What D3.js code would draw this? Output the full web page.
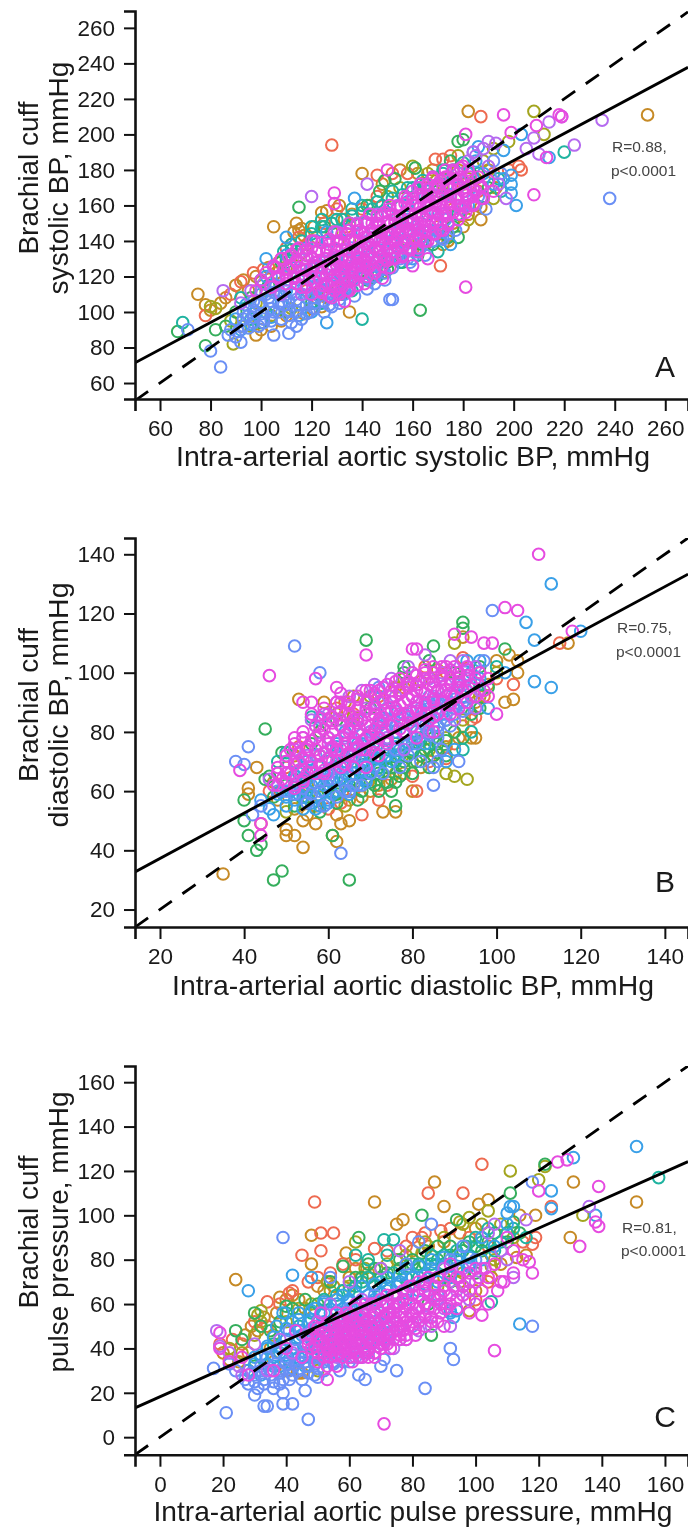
<!DOCTYPE html>
<html><head><meta charset="utf-8">
<script src="https://cdn.jsdelivr.net/npm/d3@7/dist/d3.min.js"></script>
<style>html,body{margin:0;padding:0;background:#fff}svg{display:block;filter:blur(0.35px)}</style>
</head><body><svg id="c" width="688" height="1529"></svg>
<script>
const groupColors=["#C68A26","#EE6A50","#A3A51F","#35AE5C","#1FB3A0","#3AA0E8","#6A8FF5","#B56AF0","#E64BE0"];
// Panel A: [aortic systolic, cuff systolic]
const aOrange=[[253,211],[182,213],[75,110],[105,148],[140,178],[187,152],[187,159],[174,140],[174,143],[135,100],[98,87],[78,104],[80,101],[84,105],[86,108],[90,115],[93,118],[95,112],[98,120],[100,117],[103,125],[106,122],[110,130],[113,145],[114,150],[115,146],[116,147],[117,143],[118,138],[121,148],[124,156],[126,157],[128,150],[131,160],[133,152],[136,155],[143,160],[148,172],[155,180],[162,178],[168,180],[172,175],[178,180],[185,175],[190,180],[193,170],[185,160],[182,155],[176,150],[172,138],[180,148],[120,102],[124,103],[126,108],[108,95],[104,92],[110,98],[100,90],[117,99],[130,112],[135,113]];
const aRed=[[128,194],[187,210],[146,177],[171,126],[169,186],[203,180],[78,98],[110,136],[88,110],[92,117],[97,122],[101,124],[107,128],[112,138],[115,142],[120,140],[125,150],[130,158],[134,148],[140,158],[146,165],[152,178],[158,178],[165,170],[172,186],[175,188],[180,172],[186,168],[192,178],[198,180],[202,182],[176,158],[170,148],[165,138],[160,135],[150,130],[122,108],[118,112],[128,118],[142,122]];
const aOlive=[[208,213],[212,200],[198,196],[192,164],[89,82],[80,103],[82,102],[88,95],[92,92],[98,105],[102,112],[110,125],[115,132],[122,142],[128,145],[135,140],[142,150],[150,165],[155,170],[160,182],[166,178],[172,172],[178,188],[182,175],[188,185],[192,192],[175,160],[182,152],[178,160],[165,145],[158,140],[148,122],[132,118],[122,110],[112,102],[104,98],[96,92]];
const aGreen=[[67,89],[78,81],[115,159],[163,101],[178,196],[180,197],[178,142],[149,174],[82,90],[90,100],[96,108],[103,115],[108,128],[118,132],[125,148],[135,150],[142,160],[147,168],[153,175],[161,181],[170,168],[175,185],[183,178],[190,170],[176,148],[168,140],[158,135],[150,128],[142,118],[132,110],[120,105],[110,100],[100,94],[86,92],[150,124],[156,128],[162,132],[168,138],[174,142]];
const aTeal=[[69,94],[140,96],[220,190],[194,175],[170,134],[143,118],[109,134],[92,108],[100,118],[110,128],[112,138],[120,148],[124,152],[130,152],[136,158],[140,160],[146,162],[152,168],[158,170],[165,172],[172,180],[180,184],[186,178],[195,168],[188,165],[178,155],[162,135],[155,128],[146,120],[136,112],[124,105],[114,100],[102,100],[96,96],[112,135],[116,140],[120,144],[124,148],[128,150],[132,152],[136,154],[140,156],[144,158],[148,160],[152,164],[156,166],[160,170],[164,174],[168,176],[172,178],[176,180]];
const aAzure=[[126,94],[201,160],[199,167],[199,177],[203,200],[137,164],[110,142],[102,130],[214,187],[186,193],[196,191],[90,96],[94,104],[98,100],[100,110],[102,120],[105,115],[108,105],[110,112],[112,125],[115,118],[118,108],[120,100],[122,115],[125,128],[122,140],[126,145],[130,135],[133,125],[136,118],[138,130],[140,145],[143,155],[146,135],[148,125],[152,140],[155,150],[158,160],[160,130],[163,142],[166,155],[170,165],[172,145],[175,138],[178,170],[182,160],[185,185],[188,178],[192,172],[196,175],[199,172],[92,90],[96,93],[104,97],[115,98],[128,108],[132,112],[144,120],[110,132],[118,136],[126,140],[134,146],[142,150],[150,156],[158,162],[166,168],[174,172],[182,178]];
const aBlue=[[238,164],[84,69],[80,78],[71,90],[151,107],[152,107],[105,87],[111,88],[114,92],[92,83],[87,87],[131,105],[88,90],[90,86],[93,92],[95,98],[97,94],[99,104],[101,96],[103,108],[105,100],[107,112],[109,104],[111,98],[113,110],[115,104],[117,114],[119,100],[121,108],[123,120],[125,112],[127,104],[129,116],[131,122],[133,110],[135,114],[137,126],[139,120],[141,130],[143,118],[145,128],[147,136],[149,122],[151,132],[153,142],[155,130],[157,138],[159,128],[161,148],[163,136],[165,132],[167,146],[169,156],[171,142],[173,152],[175,166],[177,146],[179,158],[181,168],[184,190],[186,165],[189,158],[192,185],[195,178],[100,112],[104,120],[110,120],[116,124],[122,128],[130,130],[136,136],[144,142],[150,150],[158,152],[165,165],
[91,89],[95,91],[99,92],[93,96],[97,97],[101,94],[104,95],[108,96],[112,94],[116,96],[93,100],[97,101],[100,99],[104,102],[107,100],[111,101],[114,100],[118,99],[121,102],[125,100],[97,106],[100,105],[104,106],[107,105],[111,106],[114,107],[118,104],[121,105],[125,106],[128,103],[131,107],[102,110],[105,111],[109,109],[112,111],[116,110],[119,110],[123,109],[126,111],[130,110],[133,112],[137,109],[106,115],[110,114],[114,116],[118,115],[122,113],[126,116],[130,114],[134,117],[138,115],[142,113],[145,116],[110,120],[113,119],[117,121],[121,120],[125,119],[129,121],[133,120],[137,118],[141,122],[145,120],[149,118],[120,125],[124,126],[128,124],[132,126],[136,124],[140,125],[144,126],[148,124],[152,125],[130,131],[134,129],[138,130],[142,131],[146,129],[150,130],[154,131],[158,130],[138,135],[142,136],[146,134],[150,135],[154,136],[158,135],[162,134],[148,141],[152,139],[156,140],[160,141],[164,139],[168,140],[172,141],[154,145],[158,146],[162,144],[166,145],[170,146],[174,144]];
const aViolet=[[120,165],[142,172],[190,196],[224,194],[235,208],[219,210],[210,189],[85,112],[208,198],[197,164],[205,192],[214,207],[92,105],[96,112],[101,116],[105,125],[110,118],[114,128],[118,135],[122,125],[126,135],[130,145],[134,135],[138,150],[142,140],[146,155],[150,145],[154,160],[158,150],[162,170],[166,162],[170,172],[174,165],[178,178],[182,185],[184,190],[187,170],[190,182],[194,172],[193,195],[188,192],[185,188],[108,110],[116,110],[124,115],[132,125],[140,128],[148,132],[156,138],[164,148],[172,155],[180,160]];
const aMagenta=[[181,114],[208,166],[196,211],[199,201],[129,167],[181,200],[150,180],[218,211],[219,210],[213,187],[209,205],[160,126],[166,130],[129,161],[98,112],[100,118],[102,122],[104,114],[105,126],[107,120],[108,130],[110,116],[111,124],[112,132],[113,120],[114,128],[115,136],[116,114],[117,124],[118,132],[119,118],[120,140],[121,126],[122,134],[123,112],[124,122],[125,130],[126,116],[127,138],[128,108],[128,124],[129,112],[129,132],[130,118],[130,126],[131,114],[131,140],[132,122],[132,130],[133,106],[133,118],[134,126],[134,144],[135,112],[135,134],[136,122],[136,128],[137,118],[137,140],[138,126],[138,134],[139,130],[139,146],[140,122],[140,136],[141,128],[141,142],[142,132],[142,150],[143,126],[143,138],[144,130],[144,146],[145,136],[145,142],[146,128],[146,150],[147,134],[147,140],[148,146],[148,154],[149,130],[149,138],[150,142],[150,150],[151,136],[151,158],[152,144],[152,130],[153,140],[153,152],[154,136],[154,148],[155,144],[155,160],[156,132],[156,152],[157,140],[157,148],[158,156],[158,164],[159,136],[159,146],[160,152],[160,168],[161,142],[161,160],[162,150],[162,136],[163,156],[163,172],[164,146],[164,164],[165,152],[165,140],[166,160],[166,172],[167,148],[167,166],[168,156],[168,176],[169,144],[169,162],[170,152],[170,170],[171,160],[172,146],[172,166],[173,156],[173,176],[174,162],[174,150],[175,170],[176,156],[176,180],[177,164],[178,152],[178,172],[179,160],[180,168],[180,182],[181,156],[182,164],[183,172],[184,160],[185,168],[186,176],[188,164],[190,174],[192,168],
[120,110],[124,111],[127,109],[131,110],[134,112],[114,116],[118,114],[121,117],[125,115],[128,116],[132,114],[135,117],[138,115],[141,116],[107,119],[110,121],[113,119],[116,120],[120,122],[123,119],[126,121],[129,120],[133,122],[136,119],[139,121],[142,120],[145,122],[148,119],[106,125],[109,124],[112,126],[115,125],[118,124],[121,126],[124,125],[127,124],[130,126],[133,125],[136,124],[139,126],[142,125],[145,124],[148,126],[151,125],[108,130],[111,131],[114,129],[117,130],[120,131],[123,129],[126,130],[129,131],[132,129],[135,130],[138,131],[141,129],[144,130],[147,131],[150,129],[153,130],[156,131],[114,135],[117,134],[120,136],[123,135],[126,134],[129,136],[132,135],[135,134],[138,136],[141,135],[144,134],[147,136],[150,135],[153,134],[156,136],[159,135],[162,134],[121,140],[124,139],[127,141],[130,140],[133,139],[136,141],[139,140],[142,139],[145,141],[148,140],[151,139],[154,141],[157,140],[160,139],[163,141],[166,140],[129,145],[132,144],[135,146],[138,145],[141,144],[144,146],[147,145],[150,144],[153,146],[156,145],[159,144],[162,146],[165,145],[168,144],[171,146],[135,150],[138,149],[141,151],[144,150],[147,149],[150,151],[153,150],[156,149],[159,151],[162,150],[165,149],[168,151],[171,150],[174,149],[143,155],[146,154],[149,156],[152,155],[155,154],[158,156],[161,155],[164,154],[167,156],[170,155],[173,154],[176,156],[179,155],[151,160],[154,159],[157,161],[160,160],[163,159],[166,161],[169,160],[172,159],[175,161],[178,160],[181,159],[184,161],[157,165],[160,164],[163,166],[166,165],[169,164],[172,166],[175,165],[178,164],[181,166],[184,165],[187,164],[163,170],[166,169],[169,171],[172,170],[175,169],[178,171],[181,170],[184,169],[187,171],[168,175],[171,174],[174,176],[177,175],[180,174],[183,176],[173,180],[176,179],[179,181],[182,180]];
// Panel B: [aortic diastolic, cuff diastolic]
const bOrange=[[35,32],[117,110],[102,90],[104,91],[105,100],[95,78],[94,78],[91,78],[54,41],[52,45],[50,45],[54,50],[50,47],[43,68],[41,61],[41,59],[53,91],[59,90],[62,43],[61,45],[63,49],[57,49],[73,53],[76,53],[80,60],[48,57],[52,54],[55,52],[57,55],[62,52],[65,50],[65,57],[68,58],[70,60],[72,62],[75,64],[78,66],[82,68],[85,72],[88,75],[92,82],[95,90],[98,96],[100,104],[103,106],[105,104],[92,112],[66,92],[69,90],[76,95],[82,97],[86,101],[62,86],[64,90],[58,72],[52,72],[47,63]];
const bRed=[[115,110],[68,52],[104,96],[95,85],[81,60],[72,57],[44,49],[88,71],[46,60],[50,68],[53,75],[58,80],[62,88],[66,86],[72,92],[78,95],[83,102],[88,100],[92,105],[96,100],[100,98],[60,54],[63,56],[66,60],[74,62],[80,65],[84,70],[90,76],[94,84],[97,92]];
const bOlive=[[93,64],[90,65],[88,66],[50,53],[54,56],[58,58],[62,60],[64,55],[68,62],[72,64],[76,66],[80,70],[84,74],[88,78],[92,84],[96,92],[100,100],[90,110],[85,100],[78,98],[70,92],[66,85],[60,70],[55,62]];
const bGreen=[[47,30],[49,33],[65,30],[43,40],[44,42],[41,45],[40,50],[40,57],[45,81],[69,111],[92,117],[92,115],[85,109],[102,108],[78,102],[49,73],[45,64],[46,65],[61,45],[76,55],[75,60],[85,72],[47,58],[50,62],[52,55],[55,58],[58,53],[60,60],[62,56],[65,62],[67,57],[70,63],[72,60],[74,68],[76,63],[78,70],[80,66],[82,72],[84,68],[86,76],[88,72],[90,80],[92,78],[94,86],[96,88],[98,95],[56,76],[58,80],[62,84],[70,88],[78,100],[84,104],[90,100],[96,102],[62,59],[65,60],[68,60],[71,62],[74,63],[77,65],[66,64],[69,66],[72,66],[75,68],[78,68],[81,70],[68,69],[71,71],[74,71],[77,72],[80,73],[83,74],[86,73],[76,76],[79,76],[82,77],[85,78],[88,77]];
const bTeal=[[48,70],[50,73],[52,64],[54,60],[56,66],[58,84],[60,62],[62,72],[64,64],[66,70],[68,66],[70,72],[72,68],[74,74],[76,70],[78,76],[80,74],[82,78],[84,76],[86,82],[88,84],[90,88],[92,74],[94,80],[96,96],[100,102],[56,85]];
const bAzure=[[113,130],[109,111],[107,117],[109,97],[113,95],[120,114],[93,104],[96,104],[44,57],[46,54],[47,52],[49,60],[50,58],[52,62],[53,66],[54,58],[55,70],[56,62],[57,54],[58,66],[59,60],[60,70],[60,56],[61,64],[62,76],[62,60],[63,68],[64,80],[64,62],[65,72],[66,66],[67,84],[67,76],[68,70],[69,64],[70,78],[71,92],[71,68],[72,82],[73,74],[74,88],[75,70],[76,80],[77,74],[78,86],[79,76],[80,92],[81,80],[82,84],[83,76],[84,90],[85,82],[86,94],[87,86],[88,70],[89,90],[90,74],[91,96],[92,92],[94,100],[96,98],[98,88],[102,100],
[50,55],[52,57],[54,54],[56,56],[58,55],[60,57],[48,59],[51,60],[53,59],[55,60],[57,58],[59,62],[61,59],[63,61],[65,59],[50,63],[52,65],[55,64],[57,63],[59,65],[61,63],[63,64],[65,65],[67,62],[69,63],[54,68],[56,67],[58,69],[60,67],[62,68],[64,66],[66,68],[68,67],[70,66],[72,67],[58,72],[60,71],[62,73],[64,70],[66,72],[68,72],[70,71],[72,71],[74,72],[76,72],[62,75],[64,75],[66,74],[68,76],[70,74],[72,76],[74,76],[76,75],[78,74],[80,76]];
const bBlue=[[52,109],[58,100],[41,75],[38,70],[40,69],[63,39],[85,62],[99,121],[42,52],[44,55],[48,60],[50,66],[52,70],[54,64],[55,56],[57,72],[58,85],[58,60],[59,55],[60,78],[61,68],[62,58],[63,72],[64,68],[65,60],[66,76],[67,68],[68,62],[69,72],[70,66],[71,80],[72,72],[73,66],[74,78],[75,84],[76,74],[77,68],[78,80],[79,72],[80,84],[81,76],[82,70],[83,82],[84,88],[85,68],[86,78],[87,74],[88,92],[89,82],[90,86],[91,70],[92,96],[93,88],[95,96],[97,104],[86,70],[72,95],
[68,79],[70,80],[72,78],[74,80],[76,78],[78,79],[80,78],[82,80],[84,79],[86,80],[72,83],[74,84],[76,82],[78,83],[80,82],[82,83],[84,84],[86,82],[88,84],[76,87],[78,86],[80,87],[82,88],[84,86],[86,87],[88,86],[90,88],[92,87],[84,92],[86,91],[88,90],[90,91],[92,90],[94,92],[50,60],[52,59],[54,61],[56,59],[58,63],[60,64],[62,64],[64,60],[66,62]];
const bViolet=[[46,64],[48,66],[50,70],[52,74],[54,78],[55,72],[56,84],[57,82],[58,76],[60,86],[61,74],[62,90],[63,84],[64,78],[65,92],[66,82],[67,74],[68,94],[69,88],[70,80],[71,96],[72,90],[73,84],[74,78],[75,98],[76,92],[77,86],[78,80],[79,102],[80,96],[81,90],[82,84],[83,106],[84,98],[85,92],[86,88],[87,100],[88,96],[89,104],[90,92],[91,100],[92,104],[93,98],[94,92],[95,102],[96,94],[60,66],[66,72],[72,78],[78,74],[84,80],[90,84],[95,88]];
const bMagenta=[[110,140],[46,99],[105,121],[102,122],[90,113],[94,112],[99,110],[97,110],[69,106],[80,108],[81,108],[52,78],[39,67],[44,49],[44,45],[100,86],[98,92],[118,114],[57,98],[62,95],[54,90],[56,90],[47,62],[48,68],[49,64],[50,72],[51,66],[52,61],[52,76],[53,70],[54,64],[54,80],[55,74],[56,68],[56,86],[57,78],[58,72],[58,82],[59,66],[59,88],[60,76],[60,84],[61,70],[61,80],[62,90],[62,74],[63,82],[63,68],[63,93],[64,76],[64,86],[65,72],[65,80],[65,90],[66,84],[66,76],[66,68],[67,88],[67,80],[67,92],[68,74],[68,84],[69,78],[69,90],[69,68],[70,86],[70,94],[70,82],[71,76],[71,88],[72,84],[72,94],[72,72],[73,80],[73,90],[74,86],[74,76],[74,96],[75,82],[75,92],[76,88],[76,78],[76,97],[77,84],[77,94],[78,90],[78,80],[79,86],[79,96],[80,82],[80,92],[80,100],[81,88],[81,78],[81,96],[82,94],[82,86],[83,90],[83,100],[84,84],[84,96],[85,90],[85,102],[85,80],[86,94],[86,86],[87,98],[87,90],[88,94],[88,102],[89,86],[89,96],[90,92],[90,102],[91,88],[91,98],[92,94],[93,90],[93,102],[94,96],[95,92],[96,100],[97,94],[98,98],
[48,62],[50,63],[52,62],[54,63],[48,66],[50,66],[53,67],[55,66],[57,66],[59,67],[50,70],[52,69],[54,71],[56,70],[58,69],[60,71],[62,70],[64,69],[51,74],[53,73],[55,75],[57,74],[59,73],[61,75],[63,74],[65,73],[67,75],[69,74],[71,73],[54,78],[56,77],[58,79],[60,78],[62,77],[64,79],[66,78],[68,77],[70,79],[72,78],[74,77],[57,82],[59,81],[61,83],[63,82],[65,81],[67,83],[69,82],[71,81],[73,83],[75,82],[77,81],[79,83],[59,86],[61,85],[63,87],[65,86],[67,85],[69,87],[71,86],[73,85],[75,87],[77,86],[79,85],[81,87],[83,86],[85,85],[63,90],[65,89],[67,91],[69,90],[71,89],[73,91],[75,90],[77,89],[79,91],[81,90],[83,89],[85,91],[87,90],[89,89],[69,94],[71,93],[73,95],[75,94],[77,93],[79,95],[81,94],[83,93],[85,95],[87,94],[89,93],[91,95],[93,94],[77,98],[79,97],[81,99],[83,98],[85,97],[87,99],[89,98],[91,97],[93,99],[95,98],[83,101],[85,100],[87,102],[89,101],[91,100],[93,101]];
// Panel C: [aortic pulse pressure, cuff pulse pressure]
const cOrange=[[24,71],[68,106],[87,115],[151,106],[131,115],[130,90],[48,91],[75,96],[77,98],[90,104],[101,105],[104,107],[119,100],[114,100],[113,81],[116,82],[105,72],[59,83],[48,78],[44,29],[45,29],[98,57],[38,63],[20,38],[22,35],[25,34],[27,46],[29,50],[31,48],[33,54],[35,40],[37,56],[40,62],[42,64],[44,62],[46,58],[50,68],[52,66],[55,68],[60,72],[62,76],[66,74],[70,76],[75,80],[80,84],[85,86],[90,88],[95,92],[100,94],[105,82],[108,78],[100,66],[95,70],[90,72],[48,36],[40,30],[36,34]];
const cRed=[[49,106],[102,123],[85,110],[96,110],[51,92],[55,92],[51,84],[45,82],[68,85],[124,104],[119,90],[118,87],[34,61],[41,65],[19,42],[80,90],[83,90],[89,93],[23,44],[26,42],[28,38],[30,52],[34,50],[38,60],[42,66],[47,70],[50,72],[54,74],[58,78],[62,80],[66,72],[72,84],[78,86],[84,92],[92,94],[98,90],[104,86],[110,92],[104,70],[100,62],[115,88]];
const cOlive=[[111,120],[122,122],[120,116],[134,100],[104,102],[95,97],[98,99],[105,77],[32,57],[31,55],[83,83],[62,88],[53,70],[22,40],[26,38],[28,30],[30,46],[32,52],[36,46],[40,52],[44,58],[48,60],[54,66],[60,68],[65,76],[72,78],[78,82],[84,88],[90,90],[96,96],[102,96],[108,96],[112,90],[106,80],[96,74],[88,68],[50,30]];
const cGreen=[[83,100],[63,90],[58,77],[111,110],[122,123],[24,48],[30,56],[86,46],[40,59],[112,97],[94,98],[26,44],[30,32],[32,50],[35,48],[38,52],[42,58],[46,62],[50,60],[54,70],[58,66],[62,72],[66,78],[70,72],[76,76],[80,80],[84,84],[88,80],[92,86],[94,80],[98,88],[102,84],[106,92],[110,88],[100,74],[92,70],[85,60],[114,92],[64,72],[68,76],[72,74],[76,80],[80,78],[84,78],[88,86],[92,82],[96,84],[100,86],[104,88]];
const cTeal=[[158,117],[105,61],[71,89],[74,89],[32,36],[36,42],[40,56],[44,50],[48,56],[52,62],[56,64],[60,66],[64,70],[68,68],[72,72],[75,68],[78,76],[82,72],[86,78],[90,82],[94,76],[97,86],[100,90],[104,94],[108,88],[112,94],[116,90],[96,68],[88,62],[62,82],[66,80],[72,82],[58,66],[62,68],[66,72],[70,70],[74,74],[78,72],[82,78],[86,82],[90,78],[94,84],[98,82],[102,88],[106,84],[110,92]];
const cAzure=[[151,131],[131,126],[124,111],[124,103],[138,100],[111,104],[110,101],[42,73],[28,66],[114,51],[94,57],[92,57],[28,30],[30,36],[32,28],[34,40],[36,32],[37,50],[38,38],[39,56],[40,44],[41,34],[42,52],[43,40],[44,56],[45,46],[46,36],[47,52],[48,44],[49,58],[50,40],[51,50],[52,60],[53,46],[54,56],[55,40],[56,62],[57,50],[58,58],[60,46],[60,62],[62,54],[64,60],[66,50],[68,62],[70,56],[72,66],[74,60],[76,70],[78,62],[80,72],[82,66],[86,74],[88,70],[92,72],[95,82],[98,78],[102,90],[106,86],[110,96],[112,104],[92,56],[93,54],[48,72],
[30,33],[34,33],[38,32],[42,31],[46,32],[32,37],[36,36],[40,37],[44,36],[48,37],[52,36],[34,41],[38,41],[42,40],[46,41],[50,40],[54,41],[36,45],[40,44],[44,45],[48,44],[52,45],[56,44],[40,49],[44,48],[48,49],[52,48],[56,49],[60,48],[44,53],[48,53],[52,52],[56,53],[60,52],[64,53],[48,57],[52,56],[56,57],[60,56],[64,57],[68,56],[52,61],[56,60],[60,61],[64,60],[68,61],[72,60],[58,64],[62,65],[66,64],[70,65],[74,64],[78,65],[64,68],[68,69],[72,68],[76,69],[80,68],[84,69],[72,72],[76,73],[80,72],[84,73],[88,72],[92,73],[78,76],[82,77],[86,76],[90,77],[94,76],[98,77],[86,80],[90,81],[94,80],[98,81],[102,80]];
const cBlue=[[39,90],[17,31],[21,11],[47,8],[33,14],[34,14],[39,15],[42,15],[46,21],[84,22],[92,40],[93,35],[75,30],[70,32],[71,35],[65,26],[63,28],[39,20],[30,19],[50,27],[118,115],[118,50],[22,33],[27,26],[28,24],[30,28],[31,22],[32,32],[33,24],[34,36],[35,28],[36,22],[37,38],[38,30],[39,26],[40,36],[41,48],[42,28],[43,44],[44,34],[45,26],[46,42],[47,32],[48,48],[49,28],[50,36],[51,44],[52,30],[53,38],[54,50],[55,34],[56,44],[57,30],[58,52],[59,38],[60,34],[61,48],[62,42],[63,54],[64,36],[65,46],[66,40],[68,50],[70,42],[72,54],[74,48],[76,44],[78,58],[80,50],[84,60],[88,64],[92,80],[96,86],[100,80],[54,72],[60,58],[68,64],[24,30],[78,78],[82,88],[86,96],
[30,25],[33,26],[36,25],[38,24],[41,26],[29,29],[32,30],[35,30],[38,29],[41,30],[44,30],[47,29],[50,31],[40,33],[43,33],[46,34],[49,33],[52,34],[55,33],[58,34],[61,36],[42,37],[46,38],[50,37],[54,38],[58,37],[62,38],[66,38],[46,42],[50,43],[54,42],[58,42],[62,43],[66,42],[70,44],[52,47],[56,47],[60,46],[64,47],[68,46],[72,47],[60,51],[64,51],[68,52],[72,51],[76,50]];
const cViolet=[[18,48],[19,41],[22,38],[25,32],[26,28],[30,42],[34,30],[38,44],[42,38],[46,46],[50,52],[52,42],[54,60],[56,36],[58,48],[60,52],[62,36],[64,62],[66,46],[68,38],[70,52],[72,44],[74,56],[74,40],[76,50],[78,44],[78,66],[80,56],[82,48],[84,68],[84,54],[86,50],[88,62],[90,58],[90,76],[92,50],[94,66],[96,76],[98,62],[100,70],[102,76],[104,92],[106,96],[108,84],[110,80],[112,72],[76,84],[70,76],[60,70],[116,98],[136,104]];
const cMagenta=[[71,6],[106,39],[139,113],[133,86],[139,95],[138,97],[129,125],[126,124],[120,111],[102,55],[107,66],[118,74],[19,47],[19,40],[53,26],[109,70],[112,74],[117,79],[22,34],[26,36],[28,28],[36,30],[40,40],[43,48],[45,36],[47,44],[48,40],[49,50],[50,34],[50,46],[51,56],[52,38],[52,50],[53,42],[53,32],[54,46],[54,36],[55,52],[55,44],[56,40],[56,48],[56,32],[57,54],[57,44],[57,38],[58,42],[58,50],[58,36],[59,46],[59,40],[59,56],[60,44],[60,38],[60,50],[61,42],[61,54],[61,34],[62,46],[62,40],[62,58],[63,44],[63,50],[63,36],[64,42],[64,54],[64,48],[65,38],[65,52],[65,58],[66,44],[66,36],[67,50],[67,42],[67,60],[68,46],[68,54],[68,38],[69,44],[69,58],[70,48],[70,40],[70,62],[71,54],[71,44],[72,50],[72,60],[72,42],[73,56],[73,46],[74,52],[74,64],[75,48],[75,60],[76,56],[76,44],[77,62],[77,50],[78,54],[78,46],[79,60],[79,68],[80,52],[80,64],[81,46],[81,58],[82,70],[82,54],[83,62],[84,50],[84,66],[85,58],[85,72],[86,54],[87,64],[88,52],[88,72],[89,60],[90,50],[90,68],[92,64],[92,78],[94,58],[94,72],[96,64],[98,70],[98,56],[100,60],[100,76],[102,66],[104,72],[104,60],[106,78],[108,70],[110,90],[112,84],[115,80],
[50,38],[52,36],[54,39],[56,37],[58,39],[60,36],[62,38],[64,36],[66,39],[68,36],[47,42],[49,41],[51,43],[53,40],[55,42],[57,41],[59,43],[61,40],[63,42],[65,41],[67,43],[69,41],[71,42],[73,40],[48,46],[50,44],[52,47],[54,44],[56,46],[58,45],[60,47],[62,44],[64,46],[66,45],[68,47],[70,45],[72,46],[74,44],[76,46],[78,44],[50,49],[53,51],[55,49],[57,50],[59,48],[61,51],[63,48],[65,50],[67,49],[69,51],[71,49],[73,50],[75,52],[77,48],[79,50],[81,49],[56,56],[58,53],[60,55],[62,52],[64,56],[66,53],[68,56],[70,53],[72,56],[74,54],[76,54],[78,52],[80,55],[82,52],[84,55],[86,52],[62,60],[65,60],[68,60],[71,59],[74,58],[76,60],[78,58],[80,60],[82,58],[84,60],[87,58],[89,56],[91,58],[72,64],[75,64],[77,66],[80,68],[82,64],[85,64],[87,62],[89,64],[92,60],[94,62],[84,70],[87,68],[90,66],[93,68],[96,68],[98,66],[92,74],[95,72],[98,74],[101,72],[103,76]];
// Tick labels and regression end-points
const aTicksX=[60,80,100,120,140,160,180,200,220,240,260], aTicksY=[60,80,100,120,140,160,180,200,220,240,260];
const bTicksX=[20,40,60,80,100,120,140], bTicksY=[20,40,60,80,100,120,140];
const cTicksX=[0,20,40,60,80,100,120,140,160], cTicksY=[0,20,40,60,80,100,120,140,160];
const aFit=[[50.1,71.4],[269,237.8]], bFit=[[14.06,32.7],[145.5,133.3]], cFit=[[-7.9,13.2],[167.3,124.2]];

const panels=[
 {id:"a",letter:"A",groups:[aOrange,aRed,aOlive,aGreen,aTeal,aAzure,aBlue,aViolet,aMagenta],ticksX:aTicksX,ticksY:aTicksY,fit:aFit,
  dx:[50.1,269],dy:[51,269.5],ry:[399,11],xlab:"Intra-arterial aortic systolic BP, mmHg",xlabY:466,xlen:474,ylab:["Brachial cuff","systolic BP, mmHg"],ylen:[153,233],yc:178,
  r:["R=0.88,","p<0.0001"],rx:612,ry1:152,ry2:176,lY:377},
 {id:"b",letter:"B",groups:[bOrange,bRed,bOlive,bGreen,bTeal,bAzure,bBlue,bViolet,bMagenta],ticksX:bTicksX,ticksY:bTicksY,fit:bFit,
  dx:[14.06,145.5],dy:[14.1,145.5],ry:[927,538],xlab:"Intra-arterial aortic diastolic BP, mmHg",xlabY:995,xlen:482,ylab:["Brachial cuff","diastolic BP, mmHg"],ylen:[154,245],yc:705,
  r:["R=0.75,","p<0.0001"],rx:617,ry1:633,ry2:657,lY:892},
 {id:"c",letter:"C",groups:[cOrange,cRed,cOlive,cGreen,cTeal,cAzure,cBlue,cViolet,cMagenta],ticksX:cTicksX,ticksY:cTicksY,fit:cFit,
  dx:[-7.9,167.3],dy:[-7.9,167.3],ry:[1454.7,1066],xlab:"Intra-arterial aortic pulse pressure, mmHg",xlabY:1521,xlen:519,ylab:["Brachial cuff","pulse pressure, mmHg"],ylen:[153,281],yc:1232,
  r:["R=0.81,","p<0.0001"],rx:622,ry1:1233,ry2:1256,lY:1427}
];
const svg=d3.select("#c");
const FONT="'Liberation Sans',Arial,sans-serif";
const LEFT=135,RIGHT=688;
panels.forEach(p=>{
  const x=d3.scaleLinear().domain(p.dx).range([LEFT,RIGHT]);
  const y=d3.scaleLinear().domain(p.dy).range(p.ry);
  const g=svg.append("g").attr("id","panel-"+p.id);
  const clipId="clip-"+p.id;
  g.append("clipPath").attr("id",clipId).append("rect").attr("x",LEFT).attr("y",p.ry[1]).attr("width",RIGHT-LEFT).attr("height",p.ry[0]-p.ry[1]);
  p.groups.forEach((pts,i)=>{
    g.append("g").selectAll("circle").data(pts).join("circle")
      .attr("cx",d=>x(d[0])).attr("cy",d=>y(d[1])).attr("r",5.8)
      .attr("fill","none").attr("stroke",groupColors[i]).attr("stroke-width",2);
  });
  const line=d3.line().x(d=>x(d[0])).y(d=>y(d[1]));
  const lines=g.append("g").attr("clip-path","url(#"+clipId+")");
  lines.append("path").attr("d",line([[p.dx[0],p.dx[0]],[p.dx[1],p.dx[1]]])).attr("fill","none").attr("stroke","#000").attr("stroke-width",2.8).attr("stroke-dasharray","16,13");
  lines.append("path").attr("d",line(p.fit)).attr("fill","none").attr("stroke","#000").attr("stroke-width",2.8);
  const ax=g.append("g").attr("transform",`translate(0,${p.ry[0]})`).call(d3.axisBottom(x).tickValues(p.ticksX).tickSize(12).tickPadding(9).tickFormat(d3.format("d")));
  const ay=g.append("g").attr("transform",`translate(${LEFT},0)`).call(d3.axisLeft(y).tickValues(p.ticksY).tickSize(11).tickPadding(9).tickFormat(d3.format("d")));
  [ax,ay].forEach(a=>{
    a.selectAll("text").attr("font-family",FONT).attr("font-size",22.5).attr("fill","#1a1a1a");
    a.selectAll("line").attr("stroke","#111").attr("stroke-width",2);
    a.select(".domain").attr("stroke","#111").attr("stroke-width",2.6);
  });
  g.append("text").attr("x",413).attr("y",p.xlabY).attr("text-anchor","middle").attr("font-family",FONT).attr("font-size",28).attr("fill","#1a1a1a").attr("textLength",p.xlen).attr("lengthAdjust","spacingAndGlyphs").text(p.xlab);
  [38,68].forEach((lx,i)=>{
    g.append("text").attr("transform",`translate(${lx},${p.yc}) rotate(-90)`).attr("text-anchor","middle").attr("font-family",FONT).attr("font-size",28).attr("fill","#1a1a1a").attr("textLength",p.ylen[i]).attr("lengthAdjust","spacingAndGlyphs").text(p.ylab[i]);
  });
  g.append("text").attr("x",p.rx).attr("y",p.ry1).attr("font-family",FONT).attr("font-size",15.5).attr("fill","#444").text(p.r[0]);
  g.append("text").attr("x",p.rx-1).attr("y",p.ry2).attr("font-family",FONT).attr("font-size",15.5).attr("fill","#444").text(p.r[1]);
  g.append("text").attr("x",665).attr("y",p.lY).attr("text-anchor","middle").attr("font-family",FONT).attr("font-size",30).attr("fill","#1a1a1a").text(p.letter);
});
</script></body></html>
